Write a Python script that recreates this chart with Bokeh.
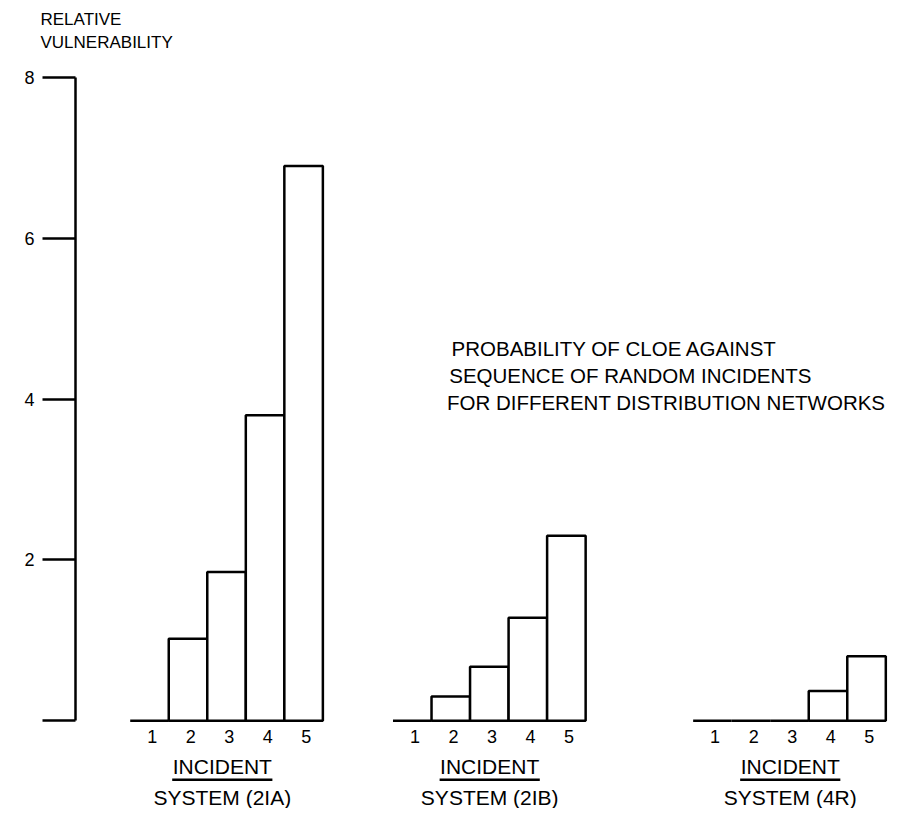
from bokeh.plotting import figure
from bokeh.models import FixedTicker, Range1d, ColumnDataSource
from bokeh.core.properties import value
from bokeh.embed import file_html
from bokeh.resources import INLINE

# ---- data ----
incidents = ["1", "2", "3", "4", "5"]
systems = ["SYSTEM (2IA)", "SYSTEM (2IB)", "SYSTEM (4R)"]
vuln_2IA = [0.0, 1.02, 1.85, 3.8, 6.9]
vuln_2IB = [0.0, 0.3, 0.67, 1.28, 2.3]
vuln_4R = [0.0, 0.0, 0.0, 0.37, 0.8]
y_ticks = [0, 2, 4, 6, 8]
y_tick_labels = ["", "2", "4", "6", "8"]
axis_title = "RELATIVE\nVULNERABILITY"
note_lines = ["PROBABILITY OF CLOE AGAINST",
              "SEQUENCE OF RANDOM INCIDENTS",
              "FOR DIFFERENT DISTRIBUTION NETWORKS"]
x_label = "INCIDENT"

# ---- layout (positions in bar-width units) ----
group_start = [1.42, 8.24, 16.03]
label_center = [3.81, 10.75, 18.55]
underline_half = 1.3
FONT = "Liberation Sans"

series = [vuln_2IA, vuln_2IB, vuln_4R]

p = figure(width=888, height=808, x_range=Range1d(0, 21.1), y_range=Range1d(-1.092, 8.223),
           output_backend="svg", toolbar_location=None, x_axis_type=None,
           title=axis_title,
           min_border_left=75, min_border_right=0, min_border_top=57, min_border_bottom=0)
p.outline_line_color = None
p.xgrid.visible = False
p.ygrid.visible = False

p.title.align = "left"
p.title.offset = -35
p.title.standoff = 15
p.title.text_font = FONT
p.title.text_font_size = "17px"
p.title.text_font_style = "normal"
p.title.text_color = "black"
p.title.text_line_height = 1.2

ax = p.yaxis[0]
ax.bounds = (0, 8)
ax.ticker = FixedTicker(ticks=y_ticks, minor_ticks=[])
ax.major_label_overrides = {t: l for t, l in zip(y_ticks, y_tick_labels)}
ax.major_tick_out = 33
ax.major_tick_in = 0
ax.minor_tick_line_color = None
ax.axis_line_width = 2.5
ax.major_tick_line_width = 2.5
ax.major_label_standoff = 8
ax.major_label_text_font = FONT
ax.major_label_text_font_size = "18px"
ax.major_label_text_color = "black"

left, right, top, bottom = [], [], [], []
num_x, num_t = [], []
for g, vals in enumerate(series):
    for i, v in enumerate(vals):
        left.append(group_start[g] + i)
        right.append(group_start[g] + i + 1)
        top.append(v)
        bottom.append(0)
        num_x.append(group_start[g] + i + 0.57)
        num_t.append(incidents[i])

src = ColumnDataSource(dict(left=left, right=right, top=top, bottom=bottom))
p.quad(left="left", right="right", top="top", bottom="bottom", source=src,
       fill_color="white", line_color="black", line_width=2.5)

p.text(x=num_x, y=[-0.2] * len(num_x), text=num_t, text_font=value(FONT),
       text_font_size="18px", text_align="center", text_baseline="middle", text_color="black")

p.text(x=label_center, y=[-0.57] * 3, text=[x_label] * 3, text_font=value(FONT),
       text_font_size="21px", text_align="center", text_baseline="middle", text_color="black")
p.segment(x0=[c - underline_half for c in label_center], y0=[-0.735] * 3,
          x1=[c + underline_half for c in label_center], y1=[-0.735] * 3,
          line_color="black", line_width=2.5)
p.text(x=label_center, y=[-0.96] * 3, text=systems, text_font=value(FONT),
       text_font_size="21px", text_align="center", text_baseline="middle", text_color="black")

p.text(x=[9.76, 9.70, 9.64], y=[4.63, 4.29, 3.96], text=note_lines, text_font=value(FONT),
       text_font_size="20.5px", text_align="left", text_baseline="middle", text_color="black")

open("out.html", "w").write(file_html(p, INLINE))
